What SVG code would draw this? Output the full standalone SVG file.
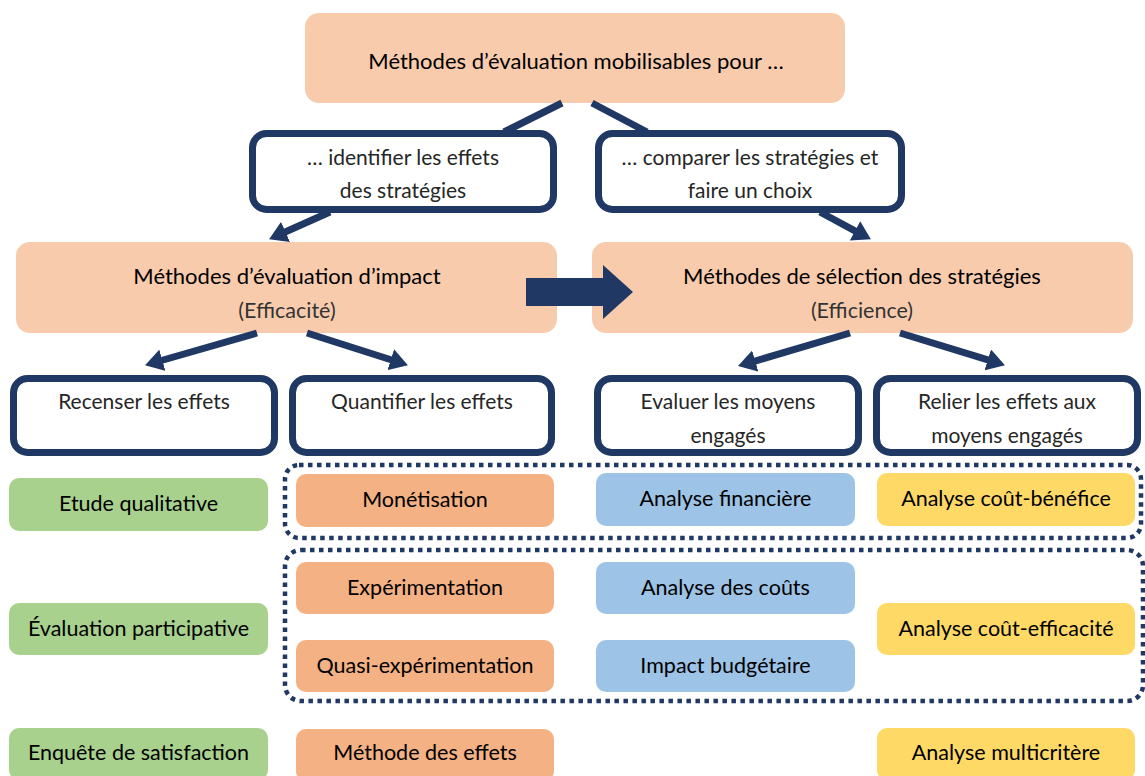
<svg xmlns="http://www.w3.org/2000/svg" width="1145" height="776" viewBox="0 0 1145 776">
<defs>
<style>
.peach{fill:#F8CBAD}
.frame{fill:#fff;stroke:#203864;stroke-width:7}
.green{fill:#A9D18E}
.orange{fill:#F4B183}
.blue{fill:#9DC3E6}
.yellow{fill:#FFD966}
.dots{fill:none;stroke:#203864;stroke-width:4.5;stroke-dasharray:4.5 4.5}
.h{font-family:Lato,"Liberation Sans",sans-serif;font-size:22px;fill:#000;text-anchor:middle}
.s{font-family:Lato,"Liberation Sans",sans-serif;font-size:21.5px;fill:#333;text-anchor:middle}
.w{font-family:Lato,"Liberation Sans",sans-serif;font-size:21px;fill:#262626;text-anchor:middle}
.b{font-family:Lato,"Liberation Sans",sans-serif;font-size:21.5px;fill:#000;text-anchor:middle}
.conn{stroke:#203864;stroke-width:7;fill:none}
</style>
<marker id="ah" viewBox="0 0 18 22" refX="1" refY="11" markerWidth="18" markerHeight="22" markerUnits="userSpaceOnUse" orient="auto">
<path d="M0,0 L18,11 L0,22 z" fill="#203864"/>
</marker>
</defs>
<rect width="1145" height="776" fill="#fff"/>

<g id="top">
<rect class="peach" x="305" y="13" width="540" height="90" rx="14"/>
<text class="h" x="576" y="69">Méthodes d’évaluation mobilisables pour …</text>
</g>
<g id="identifier">
<rect class="frame" x="252.5" y="133.5" width="301" height="76" rx="14"/>
<text class="w" x="403" y="165">… identifier les effets</text>
<text class="w" x="403" y="198">des stratégies</text>
</g>
<g id="comparer">
<rect class="frame" x="598.5" y="133.5" width="303" height="76" rx="14"/>
<text class="w" x="750" y="165">… comparer les stratégies et</text>
<text class="w" x="750" y="198">faire un choix</text>
</g>
<g id="impact">
<rect class="peach" x="16" y="242" width="541" height="91" rx="14"/>
<text class="h" x="287" y="284">Méthodes d’évaluation d’impact</text>
<text class="s" x="287" y="318">(Efficacité)</text>
</g>
<g id="selection">
<rect class="peach" x="592" y="242" width="541" height="91" rx="14"/>
<text class="h" x="862" y="284">Méthodes de sélection des stratégies</text>
<text class="s" x="862" y="318">(Efficience)</text>
</g>
<g id="recenser">
<rect class="frame" x="13.5" y="378.5" width="261" height="74" rx="14"/>
<text class="w" x="144" y="409">Recenser les effets</text>
</g>
<g id="quantifier">
<rect class="frame" x="292.5" y="378.5" width="259" height="74" rx="14"/>
<text class="w" x="422" y="409">Quantifier les effets</text>
</g>
<g id="evaluer">
<rect class="frame" x="597.5" y="378.5" width="261" height="74" rx="14"/>
<text class="w" x="728" y="409">Evaluer les moyens</text>
<text class="w" x="728" y="443">engagés</text>
</g>
<g id="relier">
<rect class="frame" x="876.5" y="378.5" width="261" height="74" rx="14"/>
<text class="w" x="1007" y="409">Relier les effets aux</text>
<text class="w" x="1007" y="443">moyens engagés</text>
</g>

<g id="groupe-monetaire">
<rect class="dots" x="285" y="465" width="856" height="73" rx="14"/>
</g>
<g id="groupe-experimental">
<rect class="dots" x="285" y="550" width="858" height="151" rx="16"/>
</g>

<g id="etude-qualitative"><rect class="green" x="9" y="478" width="259" height="53" rx="10"/><text class="b" x="138.5" y="511">Etude qualitative</text></g>
<g id="evaluation-participative"><rect class="green" x="9" y="603" width="259" height="52" rx="10"/><text class="b" x="138.5" y="636">Évaluation participative</text></g>
<g id="enquete-satisfaction"><rect class="green" x="9" y="728" width="259" height="52" rx="10"/><text class="b" x="138.5" y="760">Enquête de satisfaction</text></g>

<g id="monetisation"><rect class="orange" x="296" y="474" width="258" height="53" rx="10"/><text class="b" x="425" y="507">Monétisation</text></g>
<g id="experimentation"><rect class="orange" x="296" y="562" width="258" height="52" rx="10"/><text class="b" x="425" y="595">Expérimentation</text></g>
<g id="quasi-experimentation"><rect class="orange" x="296" y="640" width="258" height="52" rx="10"/><text class="b" x="425" y="673">Quasi-expérimentation</text></g>
<g id="methode-effets"><rect class="orange" x="296" y="729" width="258" height="52" rx="10"/><text class="b" x="425" y="760">Méthode des effets</text></g>

<g id="analyse-financiere"><rect class="blue" x="596" y="473" width="259" height="53" rx="10"/><text class="b" x="725.5" y="506">Analyse financière</text></g>
<g id="analyse-couts"><rect class="blue" x="596" y="562" width="259" height="52" rx="10"/><text class="b" x="725.5" y="595">Analyse des coûts</text></g>
<g id="impact-budgetaire"><rect class="blue" x="596" y="640" width="259" height="52" rx="10"/><text class="b" x="725.5" y="673">Impact budgétaire</text></g>

<g id="cout-benefice"><rect class="yellow" x="877" y="473" width="258" height="53" rx="10"/><text class="b" x="1006" y="506">Analyse coût-bénéfice</text></g>
<g id="cout-efficacite"><rect class="yellow" x="877" y="603" width="258" height="52" rx="10"/><text class="b" x="1006" y="636">Analyse coût-efficacité</text></g>
<g id="multicritere"><rect class="yellow" x="877" y="728" width="258" height="52" rx="10"/><text class="b" x="1006" y="760">Analyse multicritère</text></g>

<g id="connectors">
<line class="conn" stroke-width="8.5" x1="562" y1="103" x2="504" y2="132"/>
<line class="conn" stroke-width="8.5" x1="592" y1="103" x2="647" y2="132"/>
<line class="conn" x1="330" y1="212" x2="284.6" y2="232.3" marker-end="url(#ah)"/>
<line class="conn" x1="820" y1="212" x2="855.9" y2="231.3" marker-end="url(#ah)"/>
<line class="conn" x1="257" y1="333" x2="161.4" y2="360.5" marker-end="url(#ah)"/>
<line class="conn" x1="307" y1="333" x2="391.7" y2="360" marker-end="url(#ah)"/>
<line class="conn" x1="850" y1="333" x2="754.3" y2="361.3" marker-end="url(#ah)"/>
<line class="conn" x1="900" y1="333" x2="988.7" y2="360.2" marker-end="url(#ah)"/>
<polygon points="526,278 603,278 603,265 633,292 603,319 603,306 526,306" fill="#203864"/>
</g>
</svg>
